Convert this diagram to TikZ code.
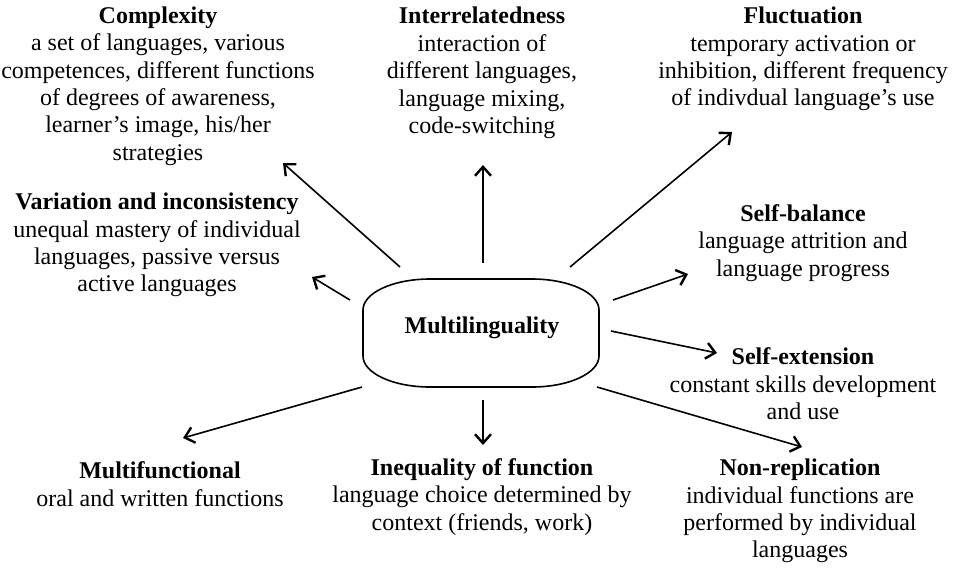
\documentclass[tikz,border=0pt]{standalone}
\usepackage{fontspec}
\setmainfont{Liberation Serif}
\usetikzlibrary{arrows.meta}

\begin{document}
\begin{tikzpicture}[x=0.5pt, y=0.5pt,
    box/.style={align=center, inner sep=0pt, font=\fontsize{12}{13.7}\selectfont},
    arr/.style={-{Straight Barb[length=4.5pt,width=8pt,line width=1.2pt]}, line width=0.8pt}]
\useasboundingbox (0,0) rectangle (965,-570);

% Central shape
\draw[line width=0.8pt] (363,-310) -- (363,-356)
    arc[start angle=180, end angle=270, x radius=67, y radius=31] -- (532,-387)
    arc[start angle=270, end angle=360, x radius=67, y radius=31] -- (599,-310)
    arc[start angle=0, end angle=90, x radius=67, y radius=31] -- (430,-279)
    arc[start angle=90, end angle=180, x radius=67, y radius=31] -- cycle;
\node[box, font=\fontsize{12}{13.7}\selectfont\bfseries] (multi) at (482,-328) {Multilinguality};

% Properties
\node[box] (cplx) at (158,-86) {\textbf{Complexity}\\a set of languages, various\\competences, different functions\\of degrees of awareness,\\learner's image, his/her\\strategies};
\node[box] (inter) at (482,-73) {\textbf{Interrelatedness}\\interaction of\\different languages,\\language mixing,\\code-switching};
\node[box] (fluct) at (803,-59) {\textbf{Fluctuation}\\temporary activation or\\inhibition, different frequency\\of indivdual language's use};
\node[box] (vari) at (157,-245) {\textbf{Variation and inconsistency}\\unequal mastery of individual\\languages, passive versus\\active languages};
\node[box] (sbal) at (803,-243) {\textbf{Self-balance}\\language attrition and\\language progress};
\node[box] (sext) at (803,-384) {\textbf{Self-extension}\\constant skills development\\and use};
\node[box] (mfun) at (160,-484) {\textbf{Multifunctional}\\oral and written functions};
\node[box] (ineq) at (482,-497) {\textbf{Inequality of function}\\language choice determined by\\context (friends, work)};
\node[box] (nrep) at (800,-511) {\textbf{Non-replication}\\individual functions are\\performed by individual\\languages};

% Arrow ends
\coordinate (cplx-s) at (400,-267);  \coordinate (cplx-t) at (283,-163);
\coordinate (inter-s) at (483,-263); \coordinate (inter-t) at (483,-165);
\coordinate (fluct-s) at (570,-267); \coordinate (fluct-t) at (732,-132);
\coordinate (vari-s) at (350,-300);  \coordinate (vari-t) at (312,-277);
\coordinate (sbal-s) at (613,-300);  \coordinate (sbal-t) at (688,-274);
\coordinate (sext-s) at (611,-331);  \coordinate (sext-t) at (717,-353);
\coordinate (mfun-s) at (362,-387);  \coordinate (mfun-t) at (183,-438);
\coordinate (ineq-s) at (483,-400);  \coordinate (ineq-t) at (483,-445);
\coordinate (nrep-s) at (597,-387);  \coordinate (nrep-t) at (802,-447);

% Arrows
\draw[arr] (cplx-s) -- (cplx-t);
\draw[arr] (inter-s) -- (inter-t);
\draw[arr] (fluct-s) -- (fluct-t);
\draw[arr] (vari-s) -- (vari-t);
\draw[arr] (sbal-s) -- (sbal-t);
\draw[arr] (sext-s) -- (sext-t);
\draw[arr] (mfun-s) -- (mfun-t);
\draw[arr] (ineq-s) -- (ineq-t);
\draw[arr] (nrep-s) -- (nrep-t);
\end{tikzpicture}
\end{document}
